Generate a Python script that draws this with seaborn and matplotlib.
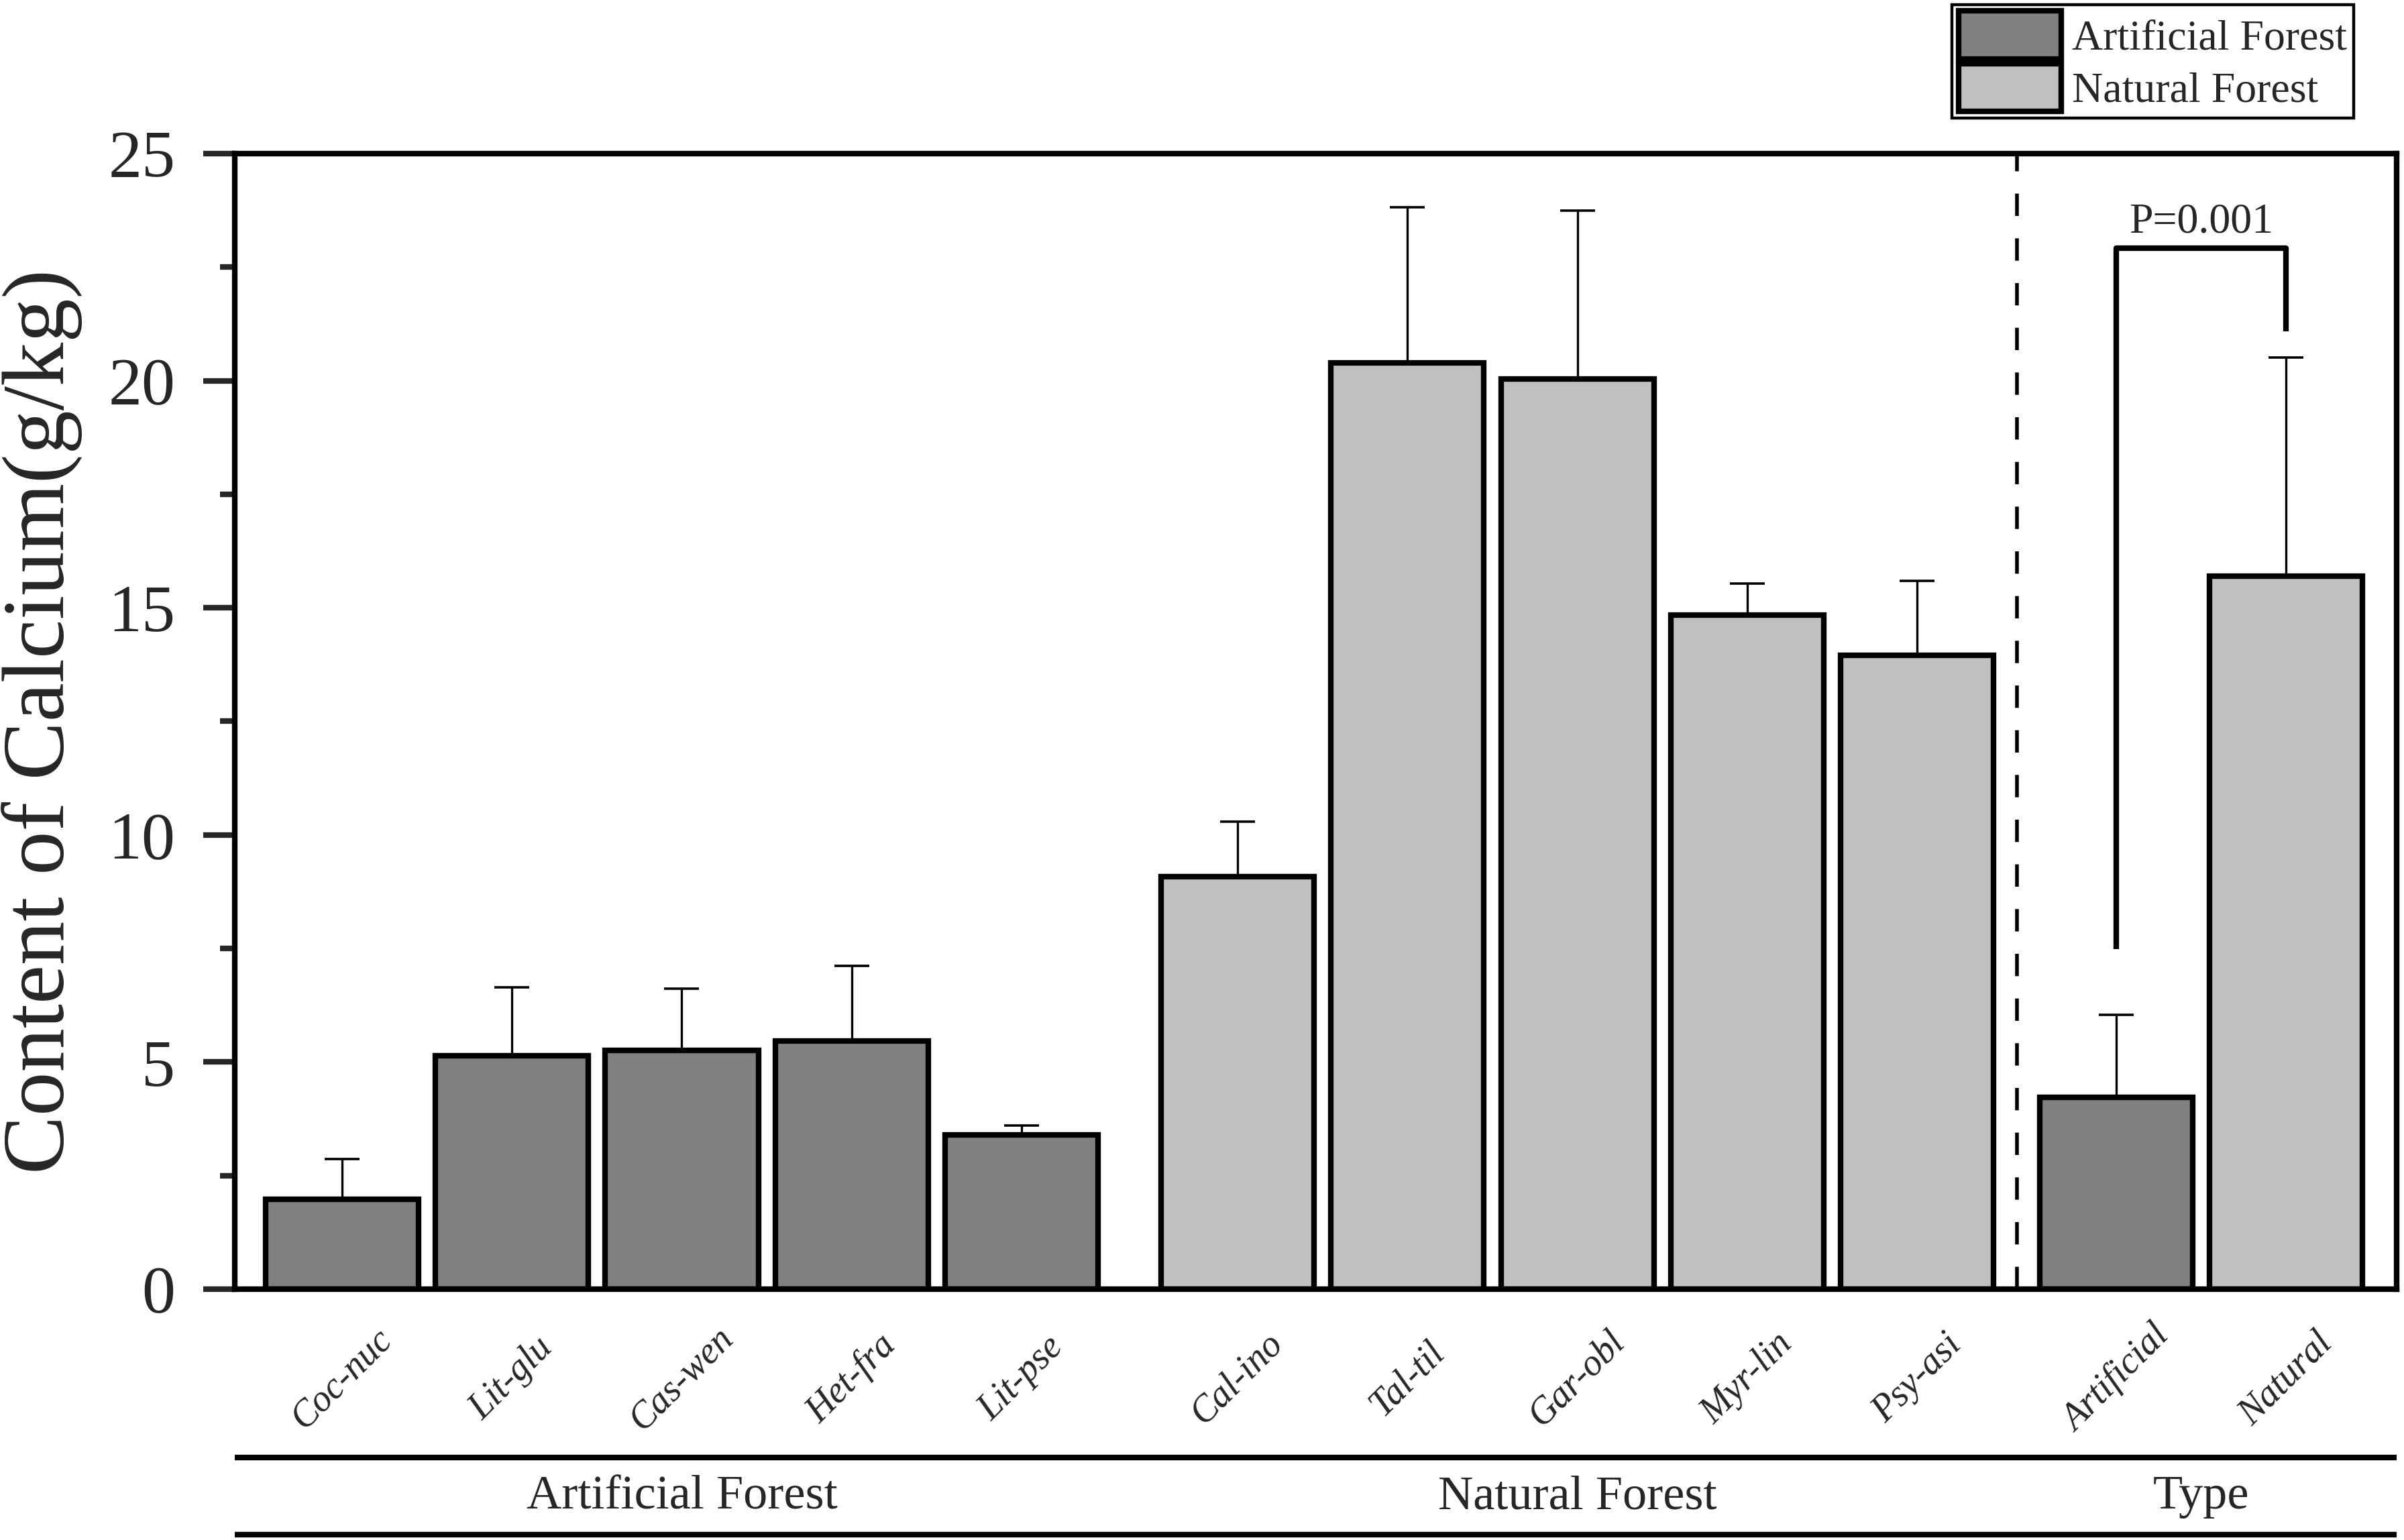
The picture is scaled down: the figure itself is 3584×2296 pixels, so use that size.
import numpy as np
import pandas as pd
import matplotlib
matplotlib.use("Agg")
import matplotlib.pyplot as plt
from matplotlib.patches import Patch
import matplotlib.transforms as mtransforms
import seaborn as sns

# Data: mean calcium content and upper SD, g/kg
species = ["Coc-nuc", "Lit-glu", "Cas-wen", "Het-fra", "Lit-pse",
           "Cal-ino", "Tal-til", "Gar-obl", "Myr-lin", "Psy-asi",
           "Artificial", "Natural"]
forest = ["Artificial Forest"] * 5 + ["Natural Forest"] * 5 + ["Artificial Forest", "Natural Forest"]
section = ["Artificial Forest"] * 5 + ["Natural Forest"] * 5 + ["Type"] * 2
means = [1.98, 5.14, 5.26, 5.47, 3.39,
         9.08, 20.39, 20.04, 14.84, 13.96,
         4.23, 15.69]
sd = [0.88, 1.50, 1.35, 1.64, 0.21,
      1.21, 3.43, 3.70, 0.70, 1.64,
      1.81, 4.82]
p_label = "P=0.001"

# layout: extra space between the three sections
section_gap = {"Artificial Forest": 0.0, "Natural Forest": 0.27, "Type": 0.44}
pos = [i + section_gap[s] for i, s in enumerate(section)]

df = pd.DataFrame({"species": species, "mean": means, "sd": sd,
                   "forest": forest, "section": section, "pos": pos})

sns.set_style("white")
plt.rcParams["font.family"] = ["Liberation Serif", "DejaVu Serif"]

colors = {"Artificial Forest": "#808080", "Natural Forest": "#c0c0c0"}

fig = plt.figure(figsize=(17.92, 11.48), dpi=200)
ax = fig.add_axes([0.0977, 0.1629, 0.8992, 0.7374])

sns.barplot(data=df, x="pos", y="mean", hue="forest", palette=colors,
            native_scale=True, dodge=False, width=0.9, errorbar=None,
            edgecolor="black", linewidth=3, legend=False, ax=ax)

# upper error bars only
ax.errorbar(df["pos"], df["mean"], yerr=[np.zeros(len(df)), df["sd"]],
            fmt="none", ecolor="black", elinewidth=1.2, capsize=9.5,
            capthick=1.3, zorder=3)

ax.set_xlim(-0.63, 12.09)
ax.set_ylim(0, 25)
ax.set_yticks(np.arange(0, 26, 5))
ax.set_yticks(np.arange(2.5, 25, 5), minor=True)
ax.set_xticks(df["pos"])
ax.set_xticklabels(species, rotation=45, ha="center", va="center",
                   fontsize=20, style="italic")
ax.tick_params(axis="x", length=0, pad=48)
ax.tick_params(axis="y", which="major", direction="out", length=17, width=3,
               labelsize=36, pad=15, left=True)
ax.tick_params(axis="y", which="minor", direction="out", length=8, width=3, left=True)
ax.set_xlabel("")
ax.set_ylabel("Content of Calcium(g/kg)", fontsize=47)
ax.yaxis.set_label_coords(-0.0705, 0.5)
for sp in ax.spines.values():
    sp.set_linewidth(3)
    sp.set_color("black")

# separator between species and type comparison
sep_x = (pos[9] + pos[10]) / 2
ax.axvline(sep_x, color="black", lw=2, dashes=(6, 6), zorder=1)

# significance bracket
left_x, right_x = pos[10], pos[11]
ax.plot([left_x, left_x, right_x, right_x], [7.48, 22.92, 22.92, 21.08],
        color="black", lw=3, solid_capstyle="butt")
ax.text((left_x + right_x) / 2, 23.05, p_label, ha="center", va="bottom", fontsize=23)

# section labels under the axis
trans = mtransforms.blended_transform_factory(ax.transData, ax.transAxes)
for y in (-0.148, -0.216):
    ax.plot([0, 1], [y, y], transform=ax.transAxes, color="black", lw=3,
            clip_on=False, solid_capstyle="butt")
for name, grp in df.groupby("section", sort=False):
    ax.text(grp["pos"].mean(), -0.183, name, transform=trans,
            ha="center", va="center", fontsize=26)

handles = [Patch(facecolor=colors[k], edgecolor="black", linewidth=3, label=k)
           for k in colors]
leg = ax.legend(handles=handles, loc="upper right", bbox_to_anchor=(0.979, 0.997),
                bbox_transform=fig.transFigure, borderaxespad=0, fontsize=23,
                frameon=True, fancybox=False, framealpha=1, edgecolor="black",
                handlelength=2.4, handleheight=1.35, handletextpad=0.25,
                labelspacing=0.1, borderpad=0.15)
leg.get_frame().set_linewidth(1.6)

fig.savefig("out.png", dpi=200)
